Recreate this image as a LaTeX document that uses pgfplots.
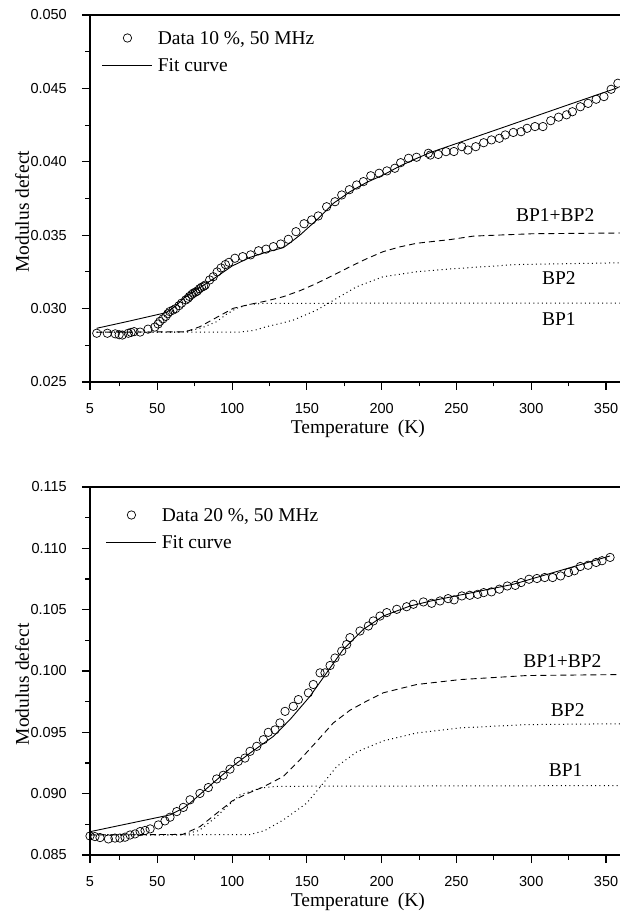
\documentclass[border=0pt]{standalone}
\usepackage{pgfplots}
\pgfplotsset{compat=1.18}
\usepackage{fontspec}
\setmainfont{Liberation Serif}
\newfontfamily\ticksf{Liberation Sans}

\tikzset{bplabel/.style={font=\fontsize{19.5}{22}\selectfont, anchor=center}}

\pgfplotsset{
  panel/.style={
    scale only axis, width=531pt,
    xmin=5, xmax=360,
    xtick={5,50,100,150,200,250,300,350},
    minor xtick={25,75,125,175,225,275,325},
    minor y tick num=1,
    xtick pos=bottom, ytick pos=left,
    tick align=outside,
    major tick length=8pt, minor tick length=4.5pt,
    every tick/.append style={black, line width=1.1pt},
    axis line style={line width=1.5pt},
    scaled y ticks=false,
    tick label style={font=\fontsize{14.5}{16}\ticksf, inner sep=0pt},
    xticklabel style={anchor=north, yshift=-13pt},
    yticklabel style={anchor=east, xshift=-15pt,
      /pgf/number format/fixed, /pgf/number format/fixed zerofill,
      /pgf/number format/precision=3},
    /pgf/number format/assume math mode=true,
    label style={font=\fontsize{19.5}{22}\selectfont},
    xlabel={Temperature\hspace{0.45em}(K)},
    ylabel={Modulus defect},
    xlabel style={at={(axis description cs:0.5045,-0.128)}, anchor=center},
    ylabel style={at={(axis description cs:-0.128,0.464)}, anchor=center},
    legend cell align=left,
    legend style={anchor=north west, draw=none, fill=none, inner sep=0pt, outer sep=0pt,
      font=\fontsize{19.5}{22}\selectfont, row sep=10pt, column sep=5pt,
      nodes={inner sep=0pt, text height=15pt, text depth=2pt}},
  },
  datapl/.style={only marks, mark=o, mark size=4.2pt, line width=0.7pt, black,
    legend image code/.code={\path[draw=none] (0pt,0pt) -- (50pt,0pt);
      \path[draw=none] plot[mark=o, mark size=4.2pt, mark options={draw=black, line width=0.7pt}] coordinates {(25pt,0pt)};}},
  fitpl/.style={black, line width=0.9pt, no marks,
    legend image code/.code={\draw[##1] (0pt,0pt) -- (50pt,0pt);}},
  dashpl/.style={black, line width=0.9pt, no marks, dash pattern=on 6pt off 4pt, forget plot},
  dotpl/.style={black, line width=1pt, no marks, dash pattern=on 1pt off 3.3pt, forget plot},
}

\begin{document}
\begin{tikzpicture}
% ---------------- top panel ----------------
\begin{axis}[panel, at={(90pt,534pt)}, anchor=south west, height=367pt,
  ymin=0.025, ymax=0.050,
  ytick={0.025,0.030,0.035,0.040,0.045,0.050},
  legend style={at={(axis description cs:0.0226,0.9605)}}]
\addplot[datapl] coordinates {
(9.5,0.02832)(16.6,0.02832)(21.9,0.02828)(24.5,0.02822)(26.6,0.02820)(30.6,0.02832)
(32.5,0.02838)(34.5,0.02843)(38.5,0.02840)(43.8,0.02860)(48.3,0.02874)(50.5,0.02895)
(51.7,0.02913)(53.8,0.02930)(55.7,0.02947)(57.0,0.02965)(58.3,0.02980)(60.5,0.02990)
(62.3,0.03000)(64.5,0.03020)(66.2,0.03037)(69.0,0.03059)(70.5,0.03070)(71.5,0.03083)
(73.0,0.03095)(74.0,0.03105)(75.5,0.03112)(76.8,0.03120)(78.2,0.03135)(79.5,0.03145)
(81.0,0.03152)(82.1,0.03160)(85.0,0.03195)(87.4,0.03217)(90.0,0.03250)(92.6,0.03277)
(95.5,0.03300)(97.9,0.03315)(101.9,0.03343)(107.1,0.03354)(112.4,0.03366)(117.7,0.03394)
(122.7,0.03405)(127.6,0.03422)(132.5,0.03440)(137.6,0.03472)(142.7,0.03524)(148.1,0.03578)
(153.2,0.03604)(157.6,0.03631)(163.2,0.03694)(168.8,0.03728)(173.3,0.03774)(178.4,0.03810)
(183.3,0.03842)(187.8,0.03865)(192.7,0.03905)(198.3,0.03922)(203.5,0.03938)(208.8,0.03956)
(212.7,0.03994)(218.0,0.04024)(223.3,0.04031)(231.2,0.04058)(232.5,0.04046)(237.8,0.04050)
(243.0,0.04069)(248.3,0.04070)(253.6,0.04103)(257.6,0.04080)(262.9,0.04103)(268.2,0.04130)
(273.4,0.04149)(278.7,0.04160)(282.6,0.04183)(288.0,0.04200)(293.2,0.04205)(297.2,0.04228)
(302.5,0.04240)(307.8,0.04240)(313.0,0.04280)(318.3,0.04304)(323.6,0.04320)(327.5,0.04341)
(332.8,0.04375)(338.0,0.04398)(343.4,0.04426)(348.6,0.04444)(353.4,0.04494)(357.9,0.04535)
};
\addlegendentry{Data 10 \%, 50 MHz}
\addplot[fitpl] coordinates {
(9.5,0.02866)(30,0.02912)(55.7,0.02972)(62,0.03015)(67.4,0.03070)(78,0.03140)
(89.7,0.03217)(100,0.03290)(112,0.03349)(123,0.03385)(134.2,0.03415)(139,0.03450)
(145.4,0.03501)(156.6,0.03604)(167.7,0.03717)(178.8,0.03796)(190,0.03860)(201,0.03910)
(212,0.03970)(222,0.04017)(232.5,0.04063)(280,0.04230)(327.5,0.04398)(358,0.04505)
};
\addlegendentry{Fit curve}
\addplot[dashpl] coordinates {
(9.5,0.02839)(69,0.02842)(78.5,0.02877)(89.7,0.02940)(100.8,0.03002)(112,0.03029)
(123,0.03052)(134.2,0.03081)(145.4,0.03122)(156.6,0.03172)(167.7,0.03228)(178.8,0.03285)
(190,0.03340)(201,0.03388)(212,0.03420)(223.4,0.03445)(245.7,0.03470)(261.5,0.03494)
(301,0.03510)(360,0.03515)
};
\addplot[dotpl] coordinates {
(9.5,0.02839)(65,0.02840)(72,0.02850)(80,0.02870)(89.7,0.02911)(96,0.02960)
(103,0.03002)(112,0.03029)(122,0.03036)(360,0.03038)
};
\addplot[dotpl] coordinates {
(9.5,0.02839)(105,0.02840)(115,0.02852)(123,0.02877)(132,0.02898)(141,0.02922)
(156.6,0.02990)(170,0.03070)(183.3,0.03149)(201,0.03217)(223.4,0.03251)(245.7,0.03270)
(290,0.03300)(360,0.03312)
};
\node[bplabel] at (axis cs:316,0.03638) {BP1+BP2};
\node[bplabel] at (axis cs:318.5,0.03206) {BP2};
\node[bplabel] at (axis cs:318.5,0.02927) {BP1};
\end{axis}

% ---------------- bottom panel ----------------
\begin{axis}[panel, at={(90pt,61pt)}, anchor=south west, height=368pt,
  ymin=0.085, ymax=0.115,
  ytick={0.085,0.090,0.095,0.100,0.105,0.110,0.115},
  legend style={at={(axis description cs:0.0301,0.947)}}]
\addplot[datapl] coordinates {
(5,0.08655)(8.3,0.08650)(11.7,0.08642)(17.3,0.08631)(21.7,0.08638)(25,0.08638)
(28.4,0.08645)(31.8,0.08663)(35.1,0.08672)(38.5,0.08691)(41.8,0.08700)(45.2,0.08713)
(50.7,0.08745)(55.1,0.08778)(58.5,0.08808)(63,0.08854)(67.4,0.08888)(71.9,0.08950)
(78.5,0.09002)(84.1,0.09050)(89.7,0.09120)(94.1,0.09150)(98.6,0.09200)(104.1,0.09263)
(108.6,0.09290)(112,0.09345)(116.5,0.09386)(120.9,0.09440)(124.2,0.09500)(128.7,0.09520)
(132,0.09577)(135.4,0.09671)(140.9,0.09712)(144.3,0.09767)(151,0.09822)(154.3,0.09890)
(158.8,0.09985)(162.1,0.09985)(165.5,0.10045)(168.8,0.10106)(173.3,0.10162)(176.6,0.10216)
(178.8,0.10272)(185.5,0.10326)(191.1,0.10367)(194.4,0.10408)(198.9,0.10448)(203.4,0.10476)
(210.1,0.10503)(216.7,0.10524)(221.2,0.10544)(227.9,0.10563)(233.4,0.10552)(239,0.10571)
(244.4,0.10590)(248.4,0.10580)(253.6,0.10612)(258.9,0.10617)(264.2,0.10625)(268.2,0.10639)
(273.4,0.10645)(278.7,0.10667)(284,0.10693)(289.3,0.10698)(293.2,0.10721)(298.5,0.10748)
(303.8,0.10754)(309,0.10762)(314.3,0.10762)(319.6,0.10775)(324.9,0.10803)(328.8,0.10817)
(332.8,0.10852)(338,0.10862)(343.4,0.10885)(347.3,0.10899)(352.7,0.10926)
};
\addlegendentry{Data 20 \%, 50 MHz}
\addplot[fitpl] coordinates {
(5,0.0869)(58.5,0.08827)(67.4,0.08882)(71.9,0.08923)(80,0.09010)(89.7,0.09113)
(100,0.09220)(112,0.09331)(127.6,0.09467)(138.7,0.09604)(152.1,0.09794)(163.2,0.09985)
(174.3,0.10176)(187.7,0.10339)(201,0.10448)(219,0.10530)(233,0.10571)(288,0.10707)
(352.7,0.10938)
};
\addlegendentry{Fit curve}
\addplot[dashpl] coordinates {
(5,0.08663)(67,0.08668)(78.5,0.08731)(89.7,0.08840)(100,0.08940)(110,0.09000)
(120,0.09050)(134.2,0.09140)(145.4,0.09277)(156.6,0.09426)(167.7,0.09577)(178.8,0.09680)
(190,0.09755)(201,0.09822)(223.4,0.09890)(252.4,0.09930)(297,0.09963)(360,0.09971)
};
\addplot[dotpl] coordinates {
(5,0.08663)(67,0.08665)(78,0.08700)(89.7,0.08813)(97,0.08900)(105.3,0.08990)
(118.7,0.09045)(130,0.09060)(360,0.09066)
};
\addplot[dotpl] coordinates {
(5,0.08663)(112,0.08666)(122,0.08700)(134.2,0.08786)(149.9,0.08923)(161,0.09086)
(170,0.09222)(183.3,0.09340)(201,0.09430)(223.4,0.09495)(252.4,0.09536)(297,0.09563)
(360,0.09570)
};
\node[bplabel] at (axis cs:320.8,0.1008) {BP1+BP2};
\node[bplabel] at (axis cs:324.4,0.09685) {BP2};
\node[bplabel] at (axis cs:323,0.09195) {BP1};
\end{axis}
\pgfresetboundingbox
\useasboundingbox (0pt,0pt) rectangle (619pt,916pt);
\end{tikzpicture}
\end{document}
